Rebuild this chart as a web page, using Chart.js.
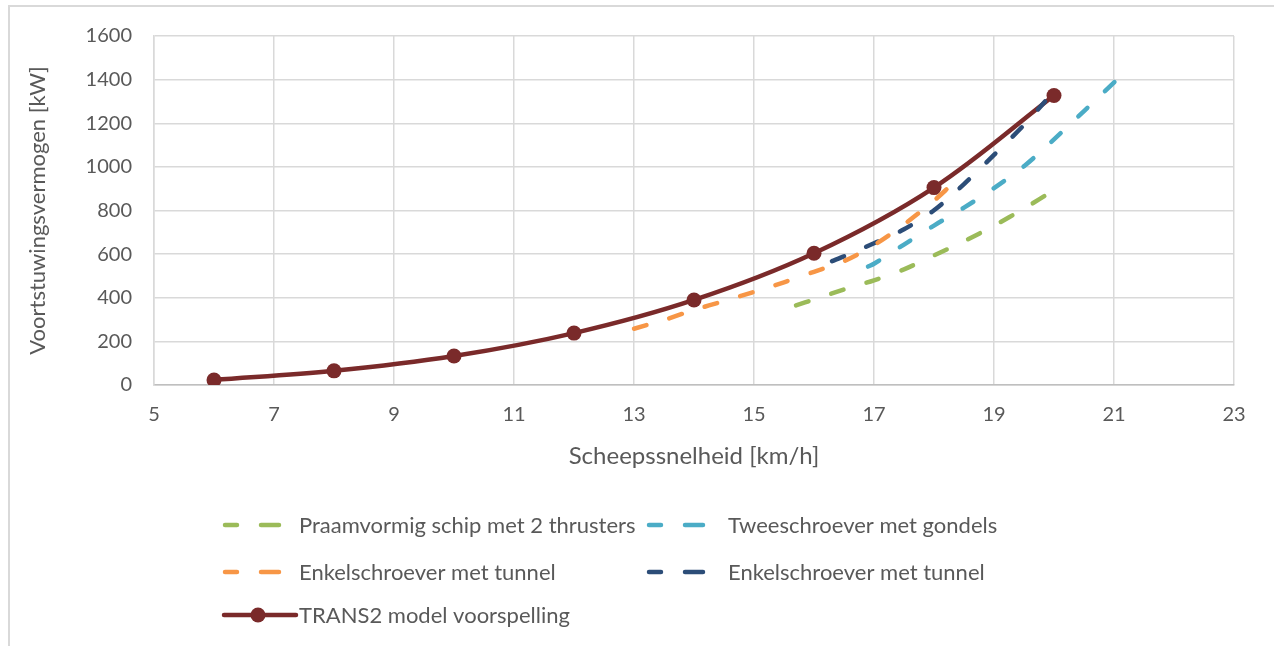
<!DOCTYPE html>
<html>
<head>
<meta charset="utf-8">
<script src="https://cdn.jsdelivr.net/npm/chart.js@4/dist/chart.umd.min.js"></script>
<style>
  html, body { margin: 0; padding: 0; background: #ffffff; }
  #wrap { position: relative; width: 1274px; height: 646px; overflow: hidden; }
  #frame { position: absolute; left: 8px; top: 5px; width: 2000px; height: 2000px;
           border-left: 2px solid #d9d9d9; border-top: 2px solid #d9d9d9; }
  canvas { position: absolute; left: 0; top: 0; }
</style>
</head>
<body>
<div id="wrap">
  <div id="frame"></div>
  <canvas id="c" width="1274" height="646"></canvas>
</div>
<script>
// Speeds in km/h, power in kW
const speedTrans = [6, 8, 10, 12, 14, 16, 18, 20];
const powerTrans = [23, 65, 133, 238, 390, 604, 905, 1327];

const speedPraam = [15.7, 16, 16.5, 17, 17.5, 18, 18.5, 19, 19.5, 20];
const powerPraam = [365, 392, 438, 480, 530, 594, 659, 730, 809, 893];

const speedTwee = [16.9, 17, 17.5, 18, 18.5, 19, 19.5, 20, 20.5, 21.05];
const powerTwee = [543, 556, 644, 731, 813, 903, 1003, 1126, 1256, 1400];

const speedEnkelTunnelA = [13, 13.5, 14, 14.5, 15, 15.5, 16, 16.5, 17, 17.5, 18, 18.28];
const powerEnkelTunnelA = [258, 298, 344, 385, 427, 471, 519, 568, 641, 736, 845, 915];

const speedEnkelTunnelB = [16.3, 16.5, 17, 17.5, 18, 18.5, 19, 19.5, 19.85];
const powerEnkelTunnelB = [568, 590, 650, 714, 801, 921, 1055, 1192, 1300];

const xTicks = [5, 7, 9, 11, 13, 15, 17, 19, 21, 23];
const yTicks = [0, 200, 400, 600, 800, 1000, 1200, 1400, 1600];

const seriesLabels = [
  'Praamvormig schip met 2 thrusters',
  'Tweeschroever met gondels',
  'Enkelschroever met tunnel',
  'Enkelschroever met tunnel',
  'TRANS2 model voorspelling'
];
const xTitle = 'Scheepssnelheid [km/h]';
const yTitle = 'Voortstuwingsvermogen [kW]';

const COLORS = ['#9bbb59', '#4bacc6', '#f79646', '#2c4d78', '#7a2a2a'];
const FONT = 'Lato, "Open Sans", sans-serif';
const TEXT = '#595959';

const pts = (xs, ys) => xs.map((x, i) => ({ x, y: ys[i] }));

function dashed(label, color, data) {
  return {
    label, data,
    borderColor: color, backgroundColor: color,
    borderWidth: 4.5, borderDash: [13, 24], borderCapStyle: 'round',
    pointRadius: 0, pointHoverRadius: 0, tension: 0.3, fill: false
  };
}

const datasets = [
  dashed(seriesLabels[0], COLORS[0], pts(speedPraam, powerPraam)),
  dashed(seriesLabels[1], COLORS[1], pts(speedTwee, powerTwee)),
  dashed(seriesLabels[2], COLORS[2], pts(speedEnkelTunnelA, powerEnkelTunnelA)),
  dashed(seriesLabels[3], COLORS[3], pts(speedEnkelTunnelB, powerEnkelTunnelB)),
  {
    label: seriesLabels[4], data: pts(speedTrans, powerTrans),
    borderColor: COLORS[4], backgroundColor: COLORS[4],
    borderWidth: 4.5, borderCapStyle: 'round',
    pointRadius: 7.5, pointBorderWidth: 0, pointBackgroundColor: COLORS[4],
    tension: 0.35, fill: false
  }
];

// Legend laid out in two columns, drawn after the chart
const legendItems = [
  { ds: 0, x: 222, y: 525, w: 60, text: 299 },
  { ds: 1, x: 646, y: 525, w: 60, text: 728 },
  { ds: 2, x: 222, y: 572, w: 60, text: 299 },
  { ds: 3, x: 646, y: 572, w: 60, text: 728 },
  { ds: 4, x: 222, y: 615, w: 74, text: 299, marker: true }
];

const legendPlugin = {
  id: 'gridLegend',
  afterDraw(chart) {
    const ctx = chart.ctx;
    ctx.save();
    ctx.font = '22px ' + FONT;
    ctx.textBaseline = 'middle';
    ctx.textAlign = 'left';
    legendItems.forEach(item => {
      const ds = chart.data.datasets[item.ds];
      ctx.strokeStyle = ds.borderColor;
      ctx.lineWidth = 4.5;
      ctx.lineCap = 'round';
      if (item.marker) {
        ctx.beginPath();
        ctx.moveTo(item.x + 2, item.y);
        ctx.lineTo(item.x + item.w, item.y);
        ctx.stroke();
        ctx.fillStyle = ds.borderColor;
        ctx.beginPath();
        ctx.arc(item.x + 36, item.y, 7.5, 0, Math.PI * 2);
        ctx.fill();
      } else {
        ctx.beginPath();
        ctx.moveTo(item.x + 3, item.y);
        ctx.lineTo(item.x + 15, item.y);
        ctx.moveTo(item.x + 39, item.y);
        ctx.lineTo(item.x + 57, item.y);
        ctx.stroke();
      }
      ctx.fillStyle = TEXT;
      ctx.fillText(ds.label, item.text, item.y + 1);
    });
    ctx.restore();
  }
};

new Chart(document.getElementById('c'), {
  type: 'line',
  data: { datasets },
  plugins: [legendPlugin],
  options: {
    responsive: false,
    animation: false,
    events: [],
    layout: { padding: { top: 36, right: 40, bottom: 0, left: 0 } },
    plugins: { legend: { display: false }, title: { display: false }, tooltip: { enabled: false } },
    scales: {
      x: {
        type: 'linear', min: 5, max: 23,
        afterFit: s => { s.height = 261; },
        afterBuildTicks: s => { s.ticks = xTicks.map(v => ({ value: v })); },
        ticks: { color: TEXT, font: { family: FONT, size: 20 }, padding: 18, maxRotation: 0,
                 callback: v => String(v) },
        grid: { color: '#d9d9d9', lineWidth: 1.5, drawTicks: false },
        border: { color: '#bfbfbf', width: 1.5 },
        title: { display: true, text: xTitle, color: TEXT, font: { family: FONT, size: 24 },
                 padding: { top: 0, bottom: 175 } }
      },
      y: {
        min: 0, max: 1600,
        afterFit: s => { s.width = 154; },
        afterBuildTicks: s => { s.ticks = yTicks.map(v => ({ value: v })); },
        ticks: { color: TEXT, font: { family: FONT, size: 20 }, padding: 22,
                 callback: v => String(v) },
        grid: { color: '#d9d9d9', lineWidth: 1.5, drawTicks: false },
        border: { color: '#d9d9d9', width: 1.5 },
        title: { display: true, text: yTitle, color: TEXT, font: { family: FONT, size: 22 },
                 padding: { top: 25, bottom: 0 } }
      }
    }
  }
});
</script>
</body>
</html>
